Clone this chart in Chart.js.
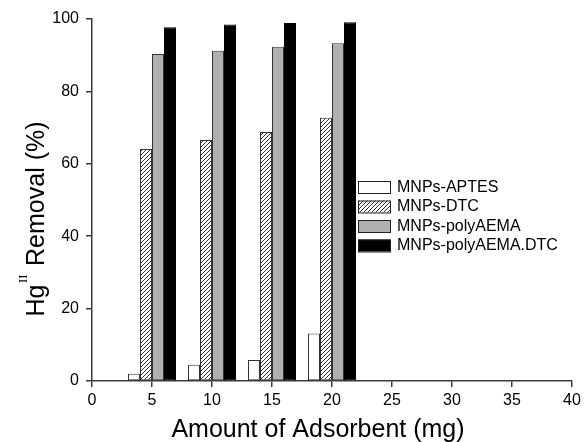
<!DOCTYPE html>
<html>
<head>
<meta charset="utf-8">
<script src="https://cdn.jsdelivr.net/npm/chart.js@4"></script>
<style>
  html, body { margin: 0; padding: 0; background: #ffffff; }
  canvas { display: block; }
</style>
</head>
<body>
<canvas id="grafico" width="585" height="442"></canvas>
<script>
// datos
const amounts = [5, 10, 15, 20];
const aptes = [2.0, 4.5, 5.8, 13.1];
const dtc = [64.1, 66.6, 68.8, 72.7];
const polyAEMA = [90.3, 91.2, 92.3, 93.3];
const polyAEMADTC = [97.7, 98.5, 98.9, 99.1];
const seriesLabels = ['MNPs-APTES', 'MNPs-DTC', 'MNPs-polyAEMA', 'MNPs-polyAEMA.DTC'];
const xTicks = [0, 5, 10, 15, 20, 25, 30, 35, 40];
const yTicks = [0, 20, 40, 60, 80, 100];

const FONT = '"Liberation Sans", Arial, Helvetica, sans-serif';
const AXIS = '#3a3a3a';

// patron rayado ////
let hatch = (() => {
  let c = document.createElement('canvas');
  c.width = 4; c.height = 4;
  let g = c.getContext('2d');
  g.fillStyle = '#ffffff';
  g.fillRect(0, 0, 4, 4);
  g.strokeStyle = '#333333';
  g.lineWidth = 1;
  g.beginPath();
  g.moveTo(-1, 5); g.lineTo(5, -1);
  g.moveTo(-1, 1); g.lineTo(1, -1);
  g.moveTo(3, 5); g.lineTo(5, 3);
  g.stroke();
  return g.createPattern(c, 'repeat');
})();

let toPoints = (arr) => amounts.map((a, i) => ({x: a, y: arr[i]}));

let fills = ['#ffffff', hatch, '#b0b0b0', '#000000'];
let borders = ['#333333', '#333333', '#333333', '#000000'];

let datasets = [aptes, dtc, polyAEMA, polyAEMADTC].map((serie, i) => ({
  label: seriesLabels[i],
  data: toPoints(serie),
  backgroundColor: fills[i],
  borderColor: borders[i],
  borderWidth: 1,
  borderSkipped: false,
  categoryPercentage: 0.8,
  barPercentage: 1.0
}));

// leyenda dentro del area y titulos de ejes
let extras = {
  id: 'extras',
  afterDraw(chart) {
    let ctx = chart.ctx;
    ctx.save();

    // leyenda
    chart.data.datasets.forEach((ds, i) => {
      let top = 181 + i * 19.5;
      ctx.fillStyle = ds.backgroundColor;
      ctx.fillRect(358.5, top, 32, 12);
      ctx.strokeStyle = '#222222';
      ctx.lineWidth = 1;
      ctx.strokeRect(358.5, top + 0.5, 32, 12);
      ctx.fillStyle = '#000000';
      ctx.font = '16px ' + FONT;
      ctx.textAlign = 'left';
      ctx.textBaseline = 'middle';
      ctx.fillText(ds.label, 397, top + 6.5);
    });

    // titulo eje x
    ctx.fillStyle = '#000000';
    ctx.font = '25px ' + FONT;
    ctx.textAlign = 'center';
    ctx.textBaseline = 'alphabetic';
    ctx.fillText('Amount of Adsorbent (mg)', 318, 437);

    // titulo eje y con superindice
    ctx.translate(44, 219);
    ctx.rotate(-Math.PI / 2);
    ctx.textAlign = 'left';
    let big = '25px ' + FONT;
    let small = '13px "Liberation Serif", "Times New Roman", serif';
    ctx.font = big;
    let w1 = ctx.measureText('Hg').width;
    let w3 = ctx.measureText(' Removal (%)').width;
    ctx.font = small;
    let w2 = ctx.measureText('II').width + 3;
    let x0 = -(w1 + w2 + w3) / 2;
    ctx.font = big;
    ctx.fillText('Hg', x0, 0);
    ctx.font = small;
    ctx.fillText('II', x0 + w1 + 1.5, -17);
    ctx.font = big;
    ctx.fillText(' Removal (%)', x0 + w1 + w2, 0);

    ctx.restore();
  }
};

let config = {
  type: 'bar',
  data: { datasets: datasets },
  options: {
    responsive: false,
    animation: false,
    layout: { padding: { top: 19, right: 13, left: 0, bottom: 0 } },
    plugins: {
      legend: { display: false },
      tooltip: { enabled: false },
      title: { display: false }
    },
    scales: {
      x: {
        type: 'linear',
        min: 0,
        max: 40,
        offset: false,
        afterFit: (scale) => { scale.height = 61; },
        afterBuildTicks: (scale) => { scale.ticks = xTicks.map(v => ({value: v})); },
        grid: { display: true, drawOnChartArea: false, drawTicks: true, tickLength: 6, color: AXIS, lineWidth: 1.5, offset: false },
        border: { display: true, color: AXIS, width: 1.5 },
        ticks: { color: '#000000', font: { family: FONT, size: 16 }, padding: 4, maxRotation: 0, autoSkip: false }
      },
      y: {
        min: 0,
        max: 100,
        afterFit: (scale) => { scale.width = 92; },
        afterBuildTicks: (scale) => { scale.ticks = yTicks.map(v => ({value: v})); },
        grid: { display: true, drawOnChartArea: false, drawTicks: true, tickLength: 6, color: AXIS, lineWidth: 1.5 },
        border: { display: true, color: AXIS, width: 1.5 },
        ticks: { color: '#000000', font: { family: FONT, size: 16 }, padding: 7 }
      }
    }
  },
  plugins: [extras]
};

let chart1 = new Chart(document.getElementById('grafico'), config);
</script>
</body>
</html>
